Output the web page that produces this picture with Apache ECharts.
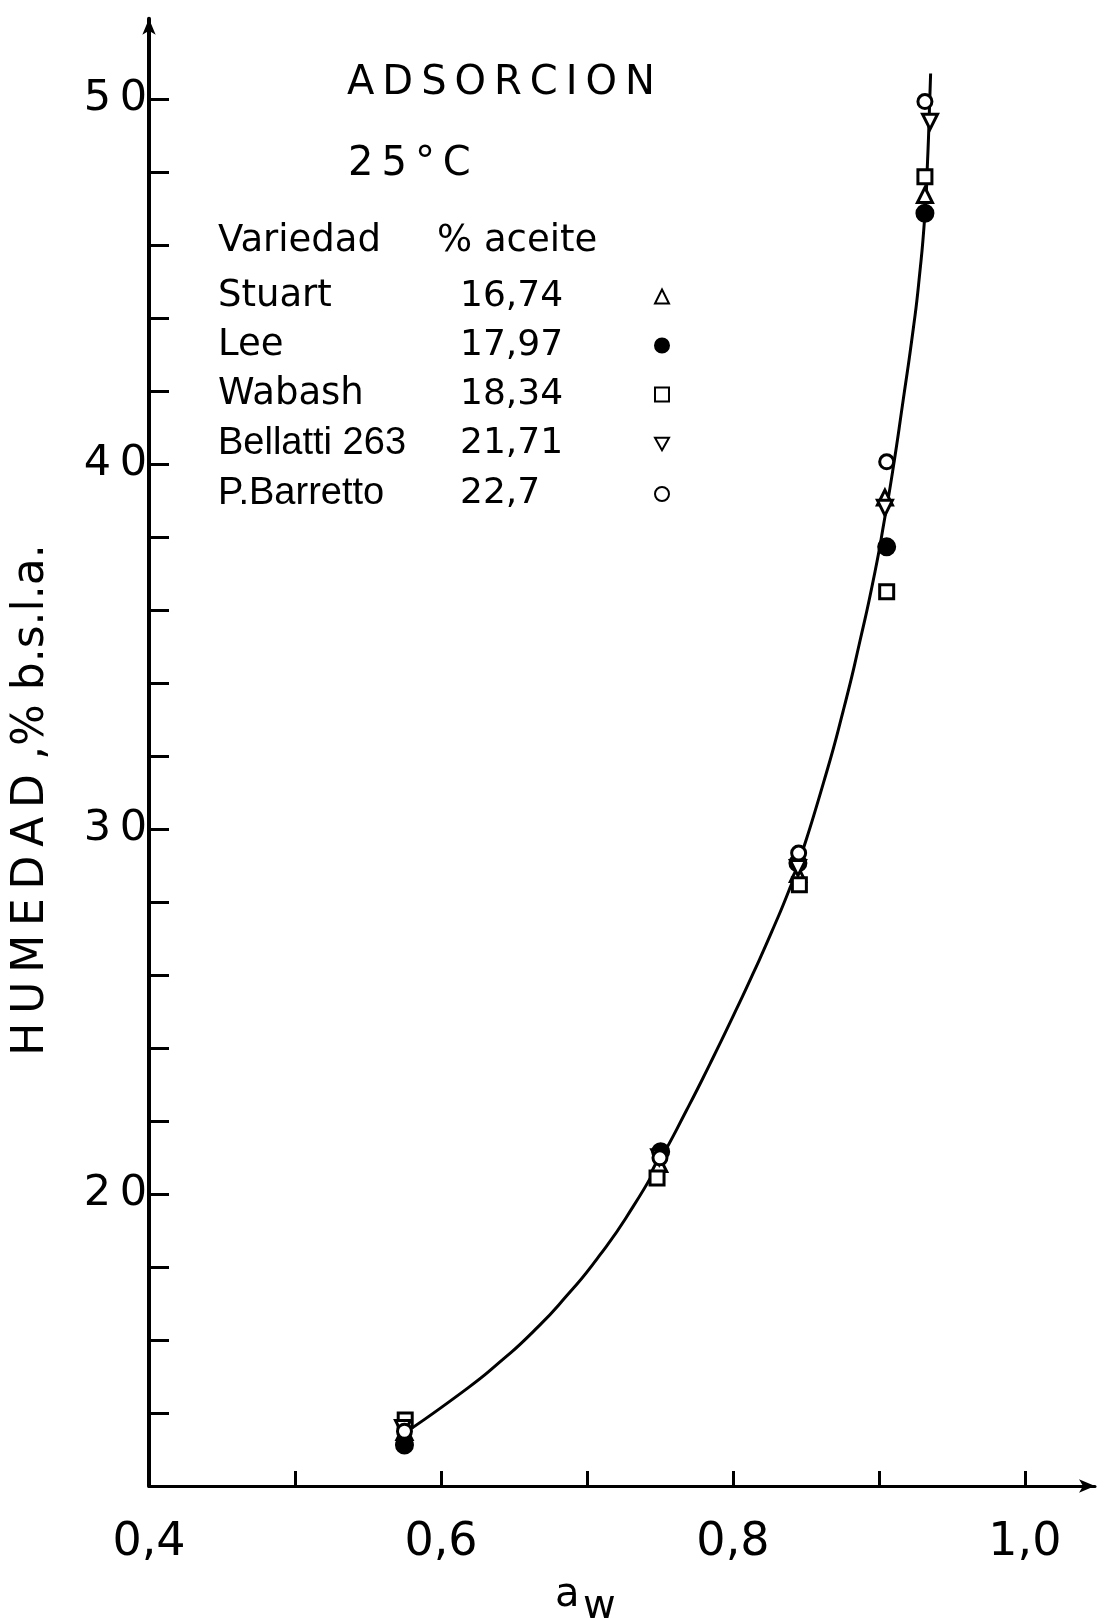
<!DOCTYPE html>
<html>
<head>
<meta charset="utf-8">
<style>
  html, body { margin: 0; padding: 0; background: #fff; }
  #chart { width: 1107px; height: 1618px; }
</style>
<script src="https://cdn.jsdelivr.net/npm/echarts@6/dist/echarts.min.js"></script>
</head>
<body>
<div id="chart"></div>
<script>
// Sorption isotherm (adsorption, 25 °C): moisture vs water activity for five soybean varieties

const varieties = ['Stuart', 'Lee', 'Wabash', 'Bellatti 263', 'P.Barretto'];
const oilPercent = ['16,74', '17,97', '18,34', '21,71', '22,7'];

// [a_w, humedad %] per variety
const stuart = [[0.5750, 13.48], [0.7495, 20.82], [0.8445, 28.77], [0.9041, 39.08], [0.9315, 47.37]];
const lee = [[0.5750, 13.12], [0.7505, 21.16], [0.8445, 29.07], [0.9053, 37.73], [0.9315, 46.87]];
const wabash = [[0.5755, 13.81], [0.7480, 20.44], [0.8455, 28.47], [0.9053, 36.50], [0.9315, 47.87]];
const bellatti = [[0.5740, 13.59], [0.7495, 21.01], [0.8445, 28.93], [0.9041, 38.80], [0.9350, 49.38]];
const barretto = [[0.5750, 13.50], [0.7500, 20.99], [0.8450, 29.34], [0.9053, 40.06], [0.9315, 49.93]];

// fitted isotherm, traced
const isotherm = [
  [0.575, 13.45], [0.6176, 14.66], [0.6404, 15.40], [0.6632, 16.23], [0.6861, 17.21],
  [0.7089, 18.33], [0.7317, 19.66], [0.7500, 20.92], [0.7683, 22.30], [0.7842, 23.56],
  [0.8002, 24.88], [0.8139, 26.05], [0.8276, 27.28], [0.8390, 28.38], [0.8445, 29.00],
  [0.8619, 31.25], [0.8756, 33.25], [0.8870, 35.15], [0.8973, 37.05], [0.9041, 38.55],
  [0.9092, 39.75], [0.9166, 41.75], [0.9235, 43.70], [0.9275, 45.05], [0.9315, 46.85],
  [0.9333, 48.30], [0.9345, 49.60], [0.9354, 50.70]
];

const xTickValues = [0.5, 0.6, 0.7, 0.8, 0.9, 1.0];
const xLabelValues = [0.4, 0.6, 0.8, 1.0];
const yTickValues = [14, 16, 18, 20, 22, 24, 26, 28, 30, 32, 34, 36, 38, 40, 42, 44, 46, 48, 50];
const yLabelValues = [20, 30, 40, 50];

const BLACK = '#000';
const TS = '\u2009'; // thin space for the spaced-out lettering

const markerDefs = [
  { data: stuart, symbol: 'triangle', rotate: 0, fill: '#fff', size: 15 },
  { data: lee, symbol: 'circle', rotate: 0, fill: BLACK, size: 16 },
  { data: wabash, symbol: 'rect', rotate: 0, fill: '#fff', size: 14 },
  { data: bellatti, symbol: 'triangle', rotate: 180, fill: '#fff', size: 15 },
  { data: barretto, symbol: 'circle', rotate: 0, fill: '#fff', size: 14 }
];

const scatterSeries = varieties.map((name, i) => ({
  name: name,
  type: 'scatter',
  data: markerDefs[i].data,
  symbol: markerDefs[i].symbol,
  symbolRotate: markerDefs[i].rotate,
  symbolSize: markerDefs[i].size,
  itemStyle: { color: markerDefs[i].fill, borderColor: BLACK, borderWidth: 3, opacity: 1 },
  z: 3
}));

const spaced = s => s.split('').join(TS);

// inverted triangle for the legend key
const downTriangle = 'path://M0,0 L10,0 L5,9 Z';

const chart = echarts.init(document.getElementById('chart'), null, { renderer: 'canvas' });

chart.setOption({
  animation: false,
  backgroundColor: '#fff',
  grid: { left: 149, right: 12, top: 18.7, bottom: 132, containLabel: false },
  xAxis: {
    type: 'value',
    min: 0.4,
    max: 1.048,
    axisLine: {
      show: true,
      lineStyle: { color: BLACK, width: 3 },
      symbol: ['none', 'arrow'],
      symbolSize: [10, 16]
    },
    axisTick: { show: true, inside: true, length: 15, customValues: xTickValues, lineStyle: { color: BLACK, width: 3 } },
    axisLabel: {
      customValues: xLabelValues,
      margin: 34,
      color: BLACK,
      fontFamily: 'DejaVu Sans',
      fontSize: 46,
      formatter: v => v.toFixed(1).replace('.', ',')
    },
    splitLine: { show: false }
  },
  yAxis: {
    type: 'value',
    min: 12,
    max: 52.2,
    axisLine: {
      show: true,
      lineStyle: { color: BLACK, width: 4 },
      symbol: ['none', 'arrow'],
      symbolSize: [10, 16]
    },
    axisTick: { show: true, inside: true, length: 20, customValues: yTickValues, lineStyle: { color: BLACK, width: 3 } },
    axisLabel: {
      customValues: yLabelValues,
      margin: 2,
      color: BLACK,
      fontFamily: 'DejaVu Sans',
      fontSize: 43,
      formatter: v => spaced(String(v))
    },
    splitLine: { show: false }
  },
  legend: {
    orient: 'vertical',
    left: 218,
    top: 278,
    padding: 0,
    align: 'right',
    itemGap: 12,
    itemWidth: 14,
    itemHeight: 14,
    selectedMode: false,
    data: varieties.map((name, i) => (i === 3 ? { name: name, icon: downTriangle } : name)),
    formatter: name => {
      const i = varieties.indexOf(name);
      const key = i >= 3 ? 'nb' : 'n';
      return '{' + key + '|' + name + '}{v|' + oilPercent[i] + '}';
    },
    textStyle: {
      color: BLACK,
      align: 'left',
      rich: {
        n: { fontFamily: 'DejaVu Sans', fontSize: 37, width: 242, lineHeight: 40, align: 'left', color: BLACK },
        nb: { fontFamily: 'Liberation Sans', fontSize: 38, width: 242, lineHeight: 40, align: 'left', color: BLACK },
        v: { fontFamily: 'DejaVu Sans', fontSize: 36, width: 190, lineHeight: 40, align: 'left', color: BLACK }
      }
    }
  },
  graphic: [
    { type: 'text', left: 347, top: 64, style: { text: spaced('ADSORCION'), font: '40px "DejaVu Sans"', fill: BLACK } },
    { type: 'text', left: 348, top: 145, style: { text: spaced('25°C'), font: '40px "DejaVu Sans"', fill: BLACK } },
    { type: 'text', left: 218, top: 223, style: { text: 'Variedad', font: '37px "DejaVu Sans"', fill: BLACK } },
    { type: 'text', left: 437, top: 223, style: { text: '% aceite', font: '37px "DejaVu Sans"', fill: BLACK } },
    {
      type: 'text', x: 32, y: 800, rotation: Math.PI / 2,
      style: { text: spaced('HUMEDAD') + ' ,% b.s.l.a.', font: '44px "DejaVu Sans"', fill: BLACK, align: 'center', verticalAlign: 'middle' }
    },
    { type: 'text', left: 555, top: 1576, style: { text: 'a', font: '40px "DejaVu Sans"', fill: BLACK } },
    { type: 'text', left: 583, top: 1588, style: { text: 'w', font: '40px "DejaVu Sans"', fill: BLACK } }
  ],
  series: [
    {
      name: 'isoterma',
      type: 'line',
      data: isotherm,
      smooth: 0.6,
      showSymbol: false,
      symbol: 'none',
      lineStyle: { color: BLACK, width: 3 },
      z: 2,
      silent: true
    }
  ].concat(scatterSeries)
});
</script>
</body>
</html>
